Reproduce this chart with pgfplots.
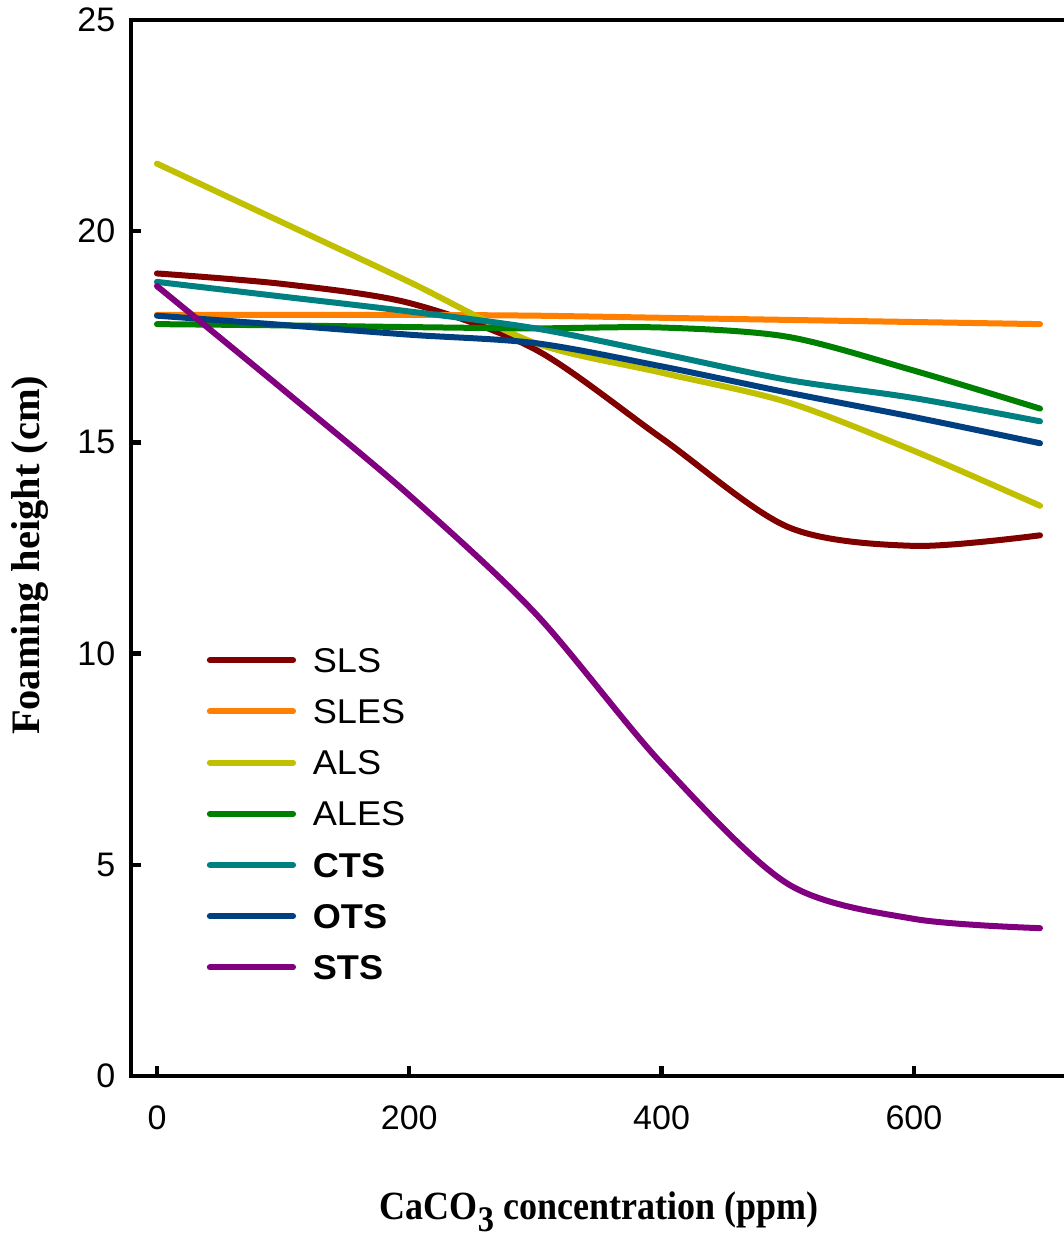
\documentclass[border=0pt]{standalone}
\usepackage{fontspec}
\usepackage{pgfplots}
\pgfplotsset{compat=1.18}
\setmainfont{Liberation Serif}
\newfontfamily\tickfont{Liberation Sans}
\newfontfamily\legfont[FakeStretch=1.05]{Liberation Sans}
\newfontfamily\xlabfont[FakeStretch=0.9]{Liberation Serif}
\definecolor{cSLS}{HTML}{800000}
\definecolor{cSLES}{HTML}{FF8000}
\definecolor{cALS}{HTML}{C0C000}
\definecolor{cALES}{HTML}{008000}
\definecolor{cCTS}{HTML}{008080}
\definecolor{cOTS}{HTML}{004080}
\definecolor{cSTS}{HTML}{800080}
\begin{document}
\begin{tikzpicture}
\begin{axis}[
  scale only axis, width=234pt, height=264pt,
  xmin=-20.6, xmax=721.4, ymin=0, ymax=25,
  axis line style={line width=1.1pt},
  xtick={0,200,400,600}, ytick={0,5,10,15,20,25},
  xtick pos=bottom, ytick pos=left,
  tick align=inside, major tick length=2.5pt,
  tick style={line width=1.1pt, black},
  ticklabel style={font=\tickfont\fontsize{8.5}{10}\selectfont},
  /pgf/number format/assume math mode=true,
  xticklabel style={anchor=north, inner sep=0pt, yshift=-7.25pt},
  yticklabel style={anchor=east, inner sep=0pt, xshift=-3.75pt},
  xlabel={CaCO\raisebox{-3pt}{\fontsize{9}{10}\selectfont 3} concentration (ppm)},
  xlabel style={font=\xlabfont\bfseries\fontsize{10}{12}\selectfont, at={(axis description cs:0.5,-0.136)}, anchor=base, inner sep=0pt},
  ylabel={Foaming height (cm)},
  ylabel style={font=\bfseries\fontsize{10.1}{12}\selectfont, at={(axis description cs:-0.108,0.493)}, anchor=center, inner sep=0pt},
  legend style={draw=none, fill=none, at={(axis description cs:0.0802,0.4058)}, anchor=north west, inner sep=0pt, row sep=6.8pt, column sep=4.2pt, font=\legfont\fontsize{8.6}{10}\selectfont, nodes={inner sep=0pt, text height=6pt, text depth=0pt}},
  legend cell align=left,
  legend image code/.code={\draw[#1, line cap=round] (0pt,0pt) -- (20.8pt,0pt);},
  every axis plot/.append style={line width=1.5pt, line cap=round, smooth},
]
\addplot[cSLS] coordinates {(0,19.0)(100,18.75)(200,18.3)(300,17.2)(400,15.1)(500,13.0)(600,12.55)(700,12.8)};
\addlegendentry{SLS}
\addplot[cSLES] coordinates {(0,18.02)(100,18.02)(200,18.02)(300,18.0)(400,17.95)(500,17.9)(600,17.85)(700,17.8)};
\addlegendentry{SLES}
\addplot[cALS] coordinates {(0,21.6)(100,20.2)(200,18.8)(300,17.35)(400,16.65)(500,15.95)(600,14.8)(700,13.5)};
\addlegendentry{ALS}
\addplot[cALES] coordinates {(0,17.8)(100,17.77)(200,17.73)(300,17.7)(400,17.72)(500,17.5)(600,16.7)(700,15.8)};
\addlegendentry{ALES}
\addplot[cCTS] coordinates {(0,18.8)(100,18.45)(200,18.1)(300,17.7)(400,17.1)(500,16.48)(600,16.05)(700,15.5)};
\addlegendentry{\textbf{CTS}}
\addplot[cOTS] coordinates {(0,18.0)(100,17.78)(200,17.55)(300,17.35)(400,16.8)(500,16.18)(600,15.6)(700,14.98)};
\addlegendentry{\textbf{OTS}}
\addplot[cSTS] coordinates {(0,18.7)(100,16.25)(200,13.75)(300,10.95)(400,7.4)(500,4.55)(600,3.72)(700,3.5)};
\addlegendentry{\textbf{STS}}
\end{axis}
\pgfresetboundingbox
\path[use as bounding box] (-32.75pt,-39.5pt) rectangle (233pt,269pt);
\end{tikzpicture}
\end{document}
